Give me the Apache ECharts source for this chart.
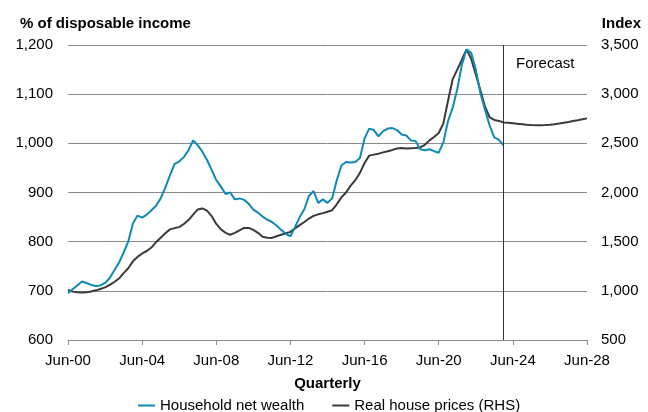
<!DOCTYPE html>
<html>
<head>
<meta charset="utf-8">
<script src="https://cdn.jsdelivr.net/npm/echarts@6/dist/echarts.min.js"></script>
<style>
  html, body { margin: 0; padding: 0; background: #fff; }
  #chart { width: 648px; height: 412px; }
</style>
</head>
<body>
<div id="chart"></div>
<script>
// Quarterly labels, Jun-00 through Jun-28
const quarters = [];
const months = ['Mar', 'Jun', 'Sep', 'Dec'];
for (let y = 2000; y <= 2028; y++) {
  for (let m = 0; m < 4; m++) {
    if (y === 2000 && m === 0) continue;
    if (y === 2028 && m > 1) continue;
    quarters.push(months[m] + '-' + String(y % 100).padStart(2, '0'));
  }
}

// Household net wealth, % of disposable income (Jun-00 .. Dec-23)
const netWealth = [
  695, 703, 711, 719, 716, 712, 710, 711, 716, 726,
  742, 757, 778, 800, 837, 853, 849, 855, 864, 873,
  888, 910, 935, 958, 963, 972, 986, 1006, 996, 983,
  966, 946, 925, 912, 897, 900, 886, 888, 885, 877,
  865, 859, 851, 845, 840, 833, 824, 816, 811, 830,
  850, 866, 893, 903, 879, 886, 879, 888, 925, 955,
  962, 961, 962, 970, 1010, 1030, 1027, 1014, 1025, 1030,
  1031, 1027, 1018, 1016, 1006, 1005, 988, 986, 988, 984,
  981, 1002, 1045, 1072, 1110, 1160, 1191, 1184, 1150, 1102,
  1068, 1036, 1012, 1007, 996
];

// Real house prices index, RHS (Jun-00 .. Jun-28, forecast from Dec-23)
const housePrices = [
  1010, 992, 985, 983, 985, 993, 1005, 1018, 1035, 1060,
  1090, 1125, 1180, 1230, 1300, 1345, 1380, 1405, 1440, 1495,
  1540, 1585, 1625, 1638, 1648, 1680, 1720, 1775, 1828, 1838,
  1815, 1760, 1680, 1625, 1590, 1570, 1590, 1615, 1640, 1640,
  1620, 1590, 1550, 1540, 1538, 1555, 1570, 1585, 1600, 1635,
  1668, 1700, 1735, 1762, 1778, 1790, 1805, 1820, 1880, 1950,
  2000, 2070, 2125, 2200, 2300, 2375, 2385, 2395, 2408, 2420,
  2433, 2448, 2452, 2448, 2450, 2452, 2458, 2485, 2530, 2565,
  2605, 2703, 2930, 3150, 3250, 3350, 3456, 3360, 3200, 3040,
  2870, 2765, 2738, 2728, 2712, 2710, 2705, 2698, 2694, 2690,
  2687, 2685, 2685, 2686, 2690, 2695, 2702, 2710, 2718, 2727,
  2735, 2744, 2754
];

const forecastStart = 'Dec-23';
const forecastEnd = 'Jun-28';

const leftTicks = { min: 600, max: 1200, step: 100 };
const rightTicks = { min: 500, max: 3500, step: 500 };

const FONT = 'Liberation Sans, Arial, sans-serif';
const TEAL = '#0e8ab5';
const DARK = '#3a3a3a';
const GRID = '#8a8a8a';

const fmt = v => v.toLocaleString('en-US');

const chart = echarts.init(document.getElementById('chart'), null, { renderer: 'canvas' });

chart.setOption({
  animation: false,
  backgroundColor: '#fff',
  textStyle: { fontFamily: FONT, color: '#000' },
  title: [
    { text: '% of disposable income', left: 15, top: 11,
      textStyle: { fontFamily: FONT, fontSize: 15, fontWeight: 'bold', color: '#000' } },
    { text: 'Index', right: 2, top: 11,
      textStyle: { fontFamily: FONT, fontSize: 15, fontWeight: 'bold', color: '#000' } }
  ],
  grid: { left: 68, right: 61, top: 45, bottom: 72, containLabel: false },
  legend: {
    bottom: -6,
    left: 133,
    itemGap: 28,
    itemWidth: 17,
    itemHeight: 2,
    icon: 'rect',
    textStyle: { fontFamily: FONT, fontSize: 15, color: '#000' },
    data: ['Household net wealth', 'Real house prices (RHS)']
  },
  xAxis: {
    type: 'category',
    data: quarters,
    boundaryGap: false,
    name: 'Quarterly',
    nameLocation: 'middle',
    nameGap: 36,
    nameTextStyle: { fontFamily: FONT, fontSize: 15, fontWeight: 'bold', color: '#000' },
    axisLine: { lineStyle: { color: GRID, width: 1 } },
    axisTick: { show: true, interval: 15, length: 5, lineStyle: { color: GRID } },
    axisLabel: { interval: 15, margin: 13, fontFamily: FONT, fontSize: 15, color: '#000' },
    splitLine: { show: false }
  },
  yAxis: [
    {
      type: 'value',
      min: leftTicks.min, max: leftTicks.max, interval: leftTicks.step,
      axisLine: { show: false },
      axisTick: { show: false },
      axisLabel: { margin: 15, fontFamily: FONT, fontSize: 15, color: '#000', formatter: fmt },
      splitLine: { show: true, lineStyle: { color: GRID, width: 1 } }
    },
    {
      type: 'value',
      min: rightTicks.min, max: rightTicks.max, interval: rightTicks.step,
      position: 'right',
      axisLine: { show: false },
      axisTick: { show: false },
      axisLabel: { margin: 14, fontFamily: FONT, fontSize: 15, color: '#000', formatter: fmt },
      splitLine: { show: false }
    }
  ],
  series: [
    {
      name: 'Household net wealth',
      type: 'line',
      yAxisIndex: 0,
      data: netWealth,
      symbol: 'none',
      z: 3,
      lineStyle: { color: TEAL, width: 2 },
      itemStyle: { color: TEAL }
    },
    {
      name: 'Real house prices (RHS)',
      type: 'line',
      yAxisIndex: 1,
      data: housePrices,
      symbol: 'none',
      z: 2,
      lineStyle: { color: DARK, width: 2 },
      itemStyle: { color: DARK },
      markLine: {
        silent: true,
        symbol: 'none',
        label: { show: false },
        lineStyle: { color: '#333', width: 1, type: 'solid' },
        data: [{ xAxis: forecastStart }]
      },
      markArea: {
        silent: true,
        itemStyle: { color: 'rgba(0,0,0,0)' },
        label: {
          show: true, position: 'insideTop', distance: 11,
          fontFamily: FONT, fontSize: 15, color: '#000'
        },
        data: [[{ xAxis: forecastStart, name: 'Forecast' }, { xAxis: forecastEnd }]]
      }
    }
  ]
});
</script>
</body>
</html>
